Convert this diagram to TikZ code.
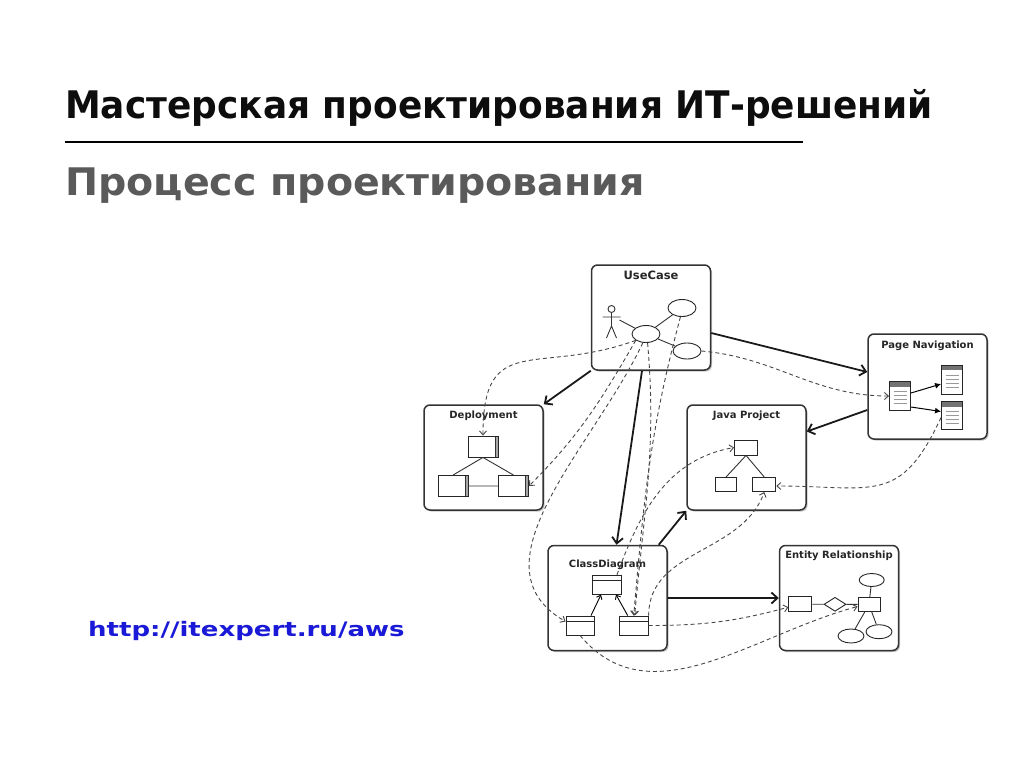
\documentclass[tikz,border=0pt]{standalone}
\usepackage{fontspec}
\setmainfont{DejaVu Sans}
\newfontfamily\headfont[FakeStretch=0.945]{DejaVu Sans}
\newfontfamily\subfont[FakeStretch=1.04]{DejaVu Sans}
\newfontfamily\urlfont[FakeStretch=1.3]{DejaVu Sans}
\usetikzlibrary{arrows.meta, positioning, shapes.geometric, shadows}

\definecolor{inkblue}{RGB}{25,25,215}
\definecolor{subgray}{RGB}{90,90,90}

\tikzset{
  panel/.style={draw=black!80, line width=1.5pt, rounded corners=6pt, fill=white,
    drop shadow={shadow xshift=1.5pt, shadow yshift=-1.5pt, opacity=.45},
    minimum width=119pt, minimum height=105pt, inner sep=0pt},
  paneltitle/.style={font=\bfseries\fontsize{10}{12}\selectfont, inner sep=0pt, text=black!85},
  part/.style={draw=black!85, line width=0.9pt, fill=white, inner sep=0pt},
  oval/.style={part, ellipse, minimum width=28pt, minimum height=17pt},
  page/.style={part, minimum width=21pt, minimum height=29pt,
    path picture={
      \fill[black!55] (path picture bounding box.north west) rectangle ([yshift=-5pt]path picture bounding box.north east);
      \foreach \k in {10,14,18,22}
        \draw[black!40, line width=0.5pt] ([xshift=4pt,yshift=-\k*1pt]path picture bounding box.north west) -- ([xshift=-4pt,yshift=-\k*1pt]path picture bounding box.north east);
    }},
  devnode/.style={part, minimum width=30pt, minimum height=21pt,
    path picture={
      \fill[black!35] ([xshift=-3pt]path picture bounding box.north east) rectangle (path picture bounding box.south east);
      \draw[black!80, line width=0.5pt] ([xshift=-3pt]path picture bounding box.north east) -- ([xshift=-3pt]path picture bounding box.south east);
    }},
  classbox/.style={part, minimum width=29pt, minimum height=19pt,
    path picture={
      \draw[line width=0.9pt] ([yshift=-5pt]path picture bounding box.north west) -- ([yshift=-5pt]path picture bounding box.north east);
    }},
  link/.style={line width=0.9pt, black!80},
  flow/.style={line width=1.8pt, black!90, -{Straight Barb[length=6pt,width=11pt]}},
  trace/.style={line width=0.9pt, black!72, dash pattern=on 4pt off 3pt, -{Straight Barb[length=4pt,width=7pt]}},
  navflow/.style={line width=1pt, -{Latex[length=6pt,width=6pt]}},
  inher/.style={line width=0.9pt, -{Straight Barb[length=3.5pt,width=6pt]}}
}

\begin{document}
\begin{tikzpicture}[x=1pt, y=-1pt]
\useasboundingbox (0,0) rectangle (1024,768);
\fill[white] (0,0) rectangle (1024,768);

% heading
\node[anchor=base west, inner sep=0pt, font=\headfont\bfseries\fontsize{38}{44}\selectfont, text=black!95] (title) at (65,118) {Мастерская проектирования ИТ-решений};
\draw[line width=2.5pt] (65,142) -- (803,142);
\node[anchor=base west, inner sep=0pt, font=\subfont\bfseries\fontsize{38}{44}\selectfont, text=subgray] (subtitle) at (65,195) {Процесс проектирования};
\node[anchor=base west, inner sep=0pt, font=\urlfont\bfseries\fontsize{20}{24}\selectfont, text=inkblue] (url) at (88,636) {http://itexpert.ru/aws};

% panels
\node[panel] (uc) at (651,317.5) {};
\node[panel] (pn) at (927.5,386.5) {};
\node[panel] (dep) at (483.5,457.5) {};
\node[panel] (jp) at (746.5,457.5) {};
\node[panel] (cd) at (607.5,598) {};
\node[panel] (er) at (839,598) {};

\node[paneltitle, font=\bfseries\fontsize{11.5}{13}\selectfont, below=7pt of uc.north] (ucLabel) {UseCase};
\node[paneltitle, below=7pt of pn.north] (pnLabel) {Page Navigation};
\node[paneltitle, below=6pt of dep.north] (depLabel) {Deployment};
\node[paneltitle, below=6pt of jp.north] (jpLabel) {Java Project};
\node[paneltitle, below=15pt of cd.north] (cdLabel) {ClassDiagram};
\node[paneltitle, below=6pt of er.north] (erLabel) {Entity Relationship};

% use case
\coordinate (actor) at (611.5,318);
\node[oval] (ucA) at (646,334) {};
\node[oval] (ucB) at (682,308) {};
\node[oval, minimum height=16pt] (ucC) at (687,351) {};
\draw[link] ([yshift=9pt]actor) circle (3.5pt)
  ([yshift=5.5pt]actor) -- ([yshift=-8pt]actor)
  ([xshift=-9pt,yshift=1pt]actor) -- ([xshift=9pt,yshift=1pt]actor)
  ([xshift=-5pt,yshift=-20pt]actor) -- ([yshift=-8pt]actor) -- ([xshift=5pt,yshift=-20pt]actor);
\draw[link] ([xshift=8pt,yshift=-2pt]actor) -- (ucA) (ucA) -- (ucB) (ucA) -- (ucC);

% page navigation
\node[page] (pnL) at (900,396) {};
\node[page] (pnT) at (952,379.5) {};
\node[page, minimum height=28pt] (pnB) at (952,415.5) {};
\draw[navflow] ([yshift=3pt]pnL.east) -- ([yshift=-4.5pt]pnT.west);
\draw[navflow] ([yshift=-11pt]pnL.east) -- ([yshift=4pt]pnB.west);

% deployment
\node[devnode] (depT) at (483,446.5) {};
\node[devnode] (depL) at (453,486) {};
\node[devnode] (depR) at (513.5,486) {};
\draw[link] (depT.south) -- (depL.north) (depT.south) -- (depR.north) (depL) -- (depR);

% java project
\node[part, minimum width=23pt, minimum height=15pt] (jpT) at (746,447.5) {};
\node[part, minimum width=21pt, minimum height=14pt] (jpL) at (726,484.5) {};
\node[part, minimum width=23pt, minimum height=14pt] (jpR) at (764.3,484.5) {};
\draw[link] (jpT.south) -- (jpL.north) (jpT.south) -- (jpR.north);

% class diagram
\node[classbox] (cdT) at (607,584.7) {};
\node[classbox, minimum width=28pt] (cdL) at (580,625.5) {};
\node[classbox] (cdR) at (633.7,625.5) {};
\draw[inher] ([xshift=11pt]cdL.north) -- ([xshift=-6pt]cdT.south);
\draw[inher] ([xshift=-6pt]cdR.north) -- ([xshift=9pt]cdT.south);

% entity relationship
\node[part, minimum width=23pt, minimum height=15pt] (erA) at (800.3,604.2) {};
\node[part, diamond, minimum width=22pt, minimum height=14pt] (erD) at (835,604.3) {};
\node[part, minimum width=22pt, minimum height=14pt] (erB) at (869,604.5) {};
\node[oval, minimum width=25pt, minimum height=13pt] (erE1) at (871.7,580) {};
\node[oval, minimum width=26pt, minimum height=14pt] (erE2) at (851,636) {};
\node[oval, minimum width=26pt, minimum height=14pt] (erE3) at (879,631.7) {};
\draw[link] (erA) -- (erD) -- (erB) (erB) -- (erE1) (erB) -- (erE2) (erB) -- (erE3);

% main flow
\draw[flow] ([yshift=-15.5pt]uc.east) -- ([yshift=14.5pt]pn.west);
\draw[flow] (uc.south west) -- (dep.north east);
\draw[flow] ([xshift=-9pt]uc.south) -- ([xshift=9pt]cd.north);
\draw[flow] ([yshift=-23.5pt]pn.west) -- ([yshift=26pt]jp.east);
\draw[flow] ([xshift=-9pt]cd.north east) -- (jp.south west);
\draw[flow] (cd.east) -- (er.west);

% traces
\draw[trace] (ucA.south west) to[out=200,in=90,looseness=1.5] (depT.north);
\draw[trace] (ucA.south west) to[out=240,in=45] (depR.east);
\draw[trace] (ucA.250) to[out=245,in=150] ([yshift=4pt]cdL.west);
\draw[trace] (ucA.280) to[out=-85,in=85] ([xshift=1pt]cdR.north);
\draw[trace] (ucB.260) to[out=-105,in=85] (cdR.north);
\draw[trace] (ucC.east) to[out=-5,in=180] (pnL.west);
\draw[trace] ([xshift=10pt]cdT.north) to[out=70,in=190] (jpT.west);
\draw[trace] (cdR.north east) to[out=90,in=-110] (jpR.south);
\draw[trace] ([yshift=-2pt]pnB.west) to[out=245,in=0,looseness=1.4] ([yshift=-1.5pt]jpR.east);
\draw[trace] (cdR.east) to[out=0,in=195] ([yshift=-3pt]erA.west);
\draw[trace] (cdL.south) to[out=-50,in=195] ([yshift=-2pt]erB.west);
\end{tikzpicture}
\end{document}
